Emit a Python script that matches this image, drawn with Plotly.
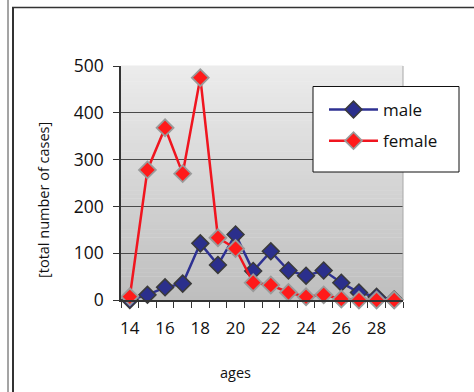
import plotly.graph_objects as go

# Case counts by age
ages = list(range(14, 30))
male = [0, 11, 27, 35, 121, 75, 140, 62, 104, 63, 52, 63, 37, 16, 7, 1]
female = [7, 278, 368, 270, 475, 133, 110, 37, 32, 16, 7, 11, 2, 0, 0, 0]
age_labels = [14, 16, 18, 20, 22, 24, 26, 28]
y_ticks = [0, 100, 200, 300, 400, 500]

W, H = 474, 392
L, R, T, B = 121, 71, 66, 92
PW, PH = W - L - R, H - T - B

def px_x(px):
    return (px - L) / PW

def px_y(py):
    return (H - B - py) / PH

FONT = "Open Sans, Liberation Sans, sans-serif"

fig = go.Figure()
fig.add_trace(go.Scatter(
    x=ages, y=male, name="male", mode="lines+markers", legendgroup="m",
    line=dict(color="#2e3192", width=2.5),
    marker=dict(symbol="diamond", size=13, color="#2b2f8c",
                line=dict(color="#3a3a3a", width=1.5)),
    cliponaxis=False,
))
fig.add_trace(go.Scatter(
    x=ages, y=female, name="female", mode="lines+markers", legendgroup="f",
    line=dict(color="#f0151f", width=2.5),
    marker=dict(symbol="diamond", size=13, color="#ff1a1a",
                line=dict(color="#9a9a9a", width=1.8)),
    cliponaxis=False,
))

shapes = []
# vertical grey gradient behind the plot area
n = 60
top_c, bot_c = (236, 236, 236), (190, 190, 190)
for i in range(n):
    t = (i + 0.5) / n
    c = tuple(round(top_c[k] + (bot_c[k] - top_c[k]) * t) for k in range(3))
    shapes.append(dict(type="rect", xref="paper", yref="paper",
                       x0=0, x1=1, y0=1 - (i + 1) / n, y1=1 - i / n + 0.002,
                       fillcolor="rgb(%d,%d,%d)" % c, line=dict(width=0),
                       layer="below"))
# plot area right edge
shapes.append(dict(type="line", xref="paper", yref="paper", x0=1, x1=1, y0=0, y1=1,
                   line=dict(color="#a8a8a8", width=1)))
# page frame lines
shapes.append(dict(type="line", xref="paper", yref="paper",
                   x0=px_x(8), x1=px_x(8), y0=px_y(0), y1=px_y(H),
                   line=dict(color="#4a4a4a", width=1)))
shapes.append(dict(type="line", xref="paper", yref="paper",
                   x0=px_x(13), x1=px_x(13), y0=px_y(7), y1=px_y(H),
                   line=dict(color="#333333", width=2)))
shapes.append(dict(type="line", xref="paper", yref="paper",
                   x0=px_x(12), x1=px_x(W), y0=px_y(7.5), y1=px_y(7.5),
                   line=dict(color="#333333", width=1.5)))
# legend frame
shapes.append(dict(type="rect", xref="paper", yref="paper",
                   x0=px_x(313), x1=px_x(459), y0=px_y(172), y1=px_y(86.5),
                   fillcolor="white", line=dict(color="#111111", width=1),
                   layer="above"))

fig.update_layout(
    width=W, height=H,
    margin=dict(l=L, r=R, t=T, b=B, pad=0),
    paper_bgcolor="white", plot_bgcolor="rgba(0,0,0,0)",
    font=dict(family=FONT, color="#111111"),
    shapes=shapes,
    showlegend=True,
    legend=dict(x=px_x(324), y=px_y(92), xanchor="left", yanchor="top",
                bgcolor="rgba(0,0,0,0)", borderwidth=0,
                font=dict(size=17, family=FONT, color="#111111"),
                tracegroupgap=6, itemwidth=49, entrywidth=110),
    xaxis=dict(range=[13.5, 29.5], tickmode="array", tickvals=age_labels,
               ticktext=[str(a) for a in age_labels], ticks="",
               tickfont=dict(size=17), showgrid=False, zeroline=False,
               showline=True, linecolor="#333333", linewidth=1.5,
               minor=dict(tick0=13.5, dtick=1, ticks="outside", ticklen=6,
                          tickcolor="#333333", tickwidth=1.2, showgrid=False),
               ticklabelstandoff=12),
    yaxis=dict(range=[0, 500], tickmode="array", tickvals=y_ticks,
               tickfont=dict(size=17.5), showgrid=True, gridcolor="#4a4a4a",
               gridwidth=1.3, zeroline=False, showline=True,
               linecolor="#333333", linewidth=1.5, ticks="outside",
               ticklen=6, tickcolor="#333333", ticklabelstandoff=6),
    annotations=[
        dict(text="[total number of cases]", xref="paper", yref="paper",
             x=px_x(43), y=px_y(200), xanchor="center", yanchor="middle",
             textangle=-90, showarrow=False,
             font=dict(size=14.5, family=FONT, color="#111111")),
        dict(text="ages", xref="paper", yref="paper",
             x=px_x(235), y=px_y(372), xanchor="center", yanchor="middle",
             showarrow=False,
             font=dict(size=14.5, family=FONT, color="#111111")),
    ],
)

fig.write_html("out.html")
